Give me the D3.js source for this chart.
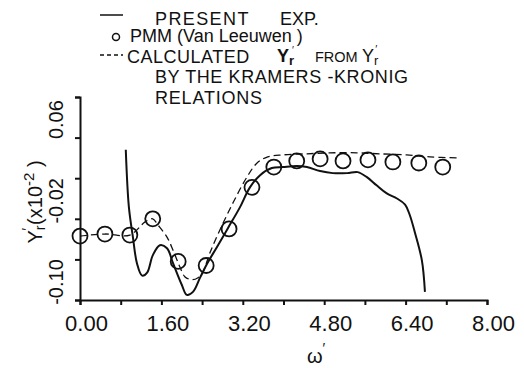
<!DOCTYPE html>
<html>
<head>
<meta charset="utf-8">
<script src="https://cdn.jsdelivr.net/npm/d3@7"></script>
<style>
  body { margin: 0; background: #fff; }
  svg { display: block; }
  text { fill: #111; font-family: "Liberation Sans", Arial, sans-serif; }
</style>
</head>
<body>
<svg id="chart" width="524" height="368"></svg>
<script>
// x = omega', y = Y'r (x10^-2)
const xTicks = [0, 0.8, 1.6, 2.4, 3.2, 4.0, 4.8, 5.6, 6.4, 7.2, 8.0]
const xLabels = ['0.00', '1.60', '3.20', '4.80', '6.40', '8.00']
const yTicks = [-0.10, -0.06, -0.02, 0.02, 0.06, 0.10]
const yLabels = [0.06, -0.02, -0.10]

// PMM (Van Leeuwen) circles
const pmmX = [0.0, 0.49, 0.98, 1.43, 1.93, 2.48, 2.93, 3.38, 3.81, 4.26, 4.72, 5.17, 5.66, 6.15, 6.66, 7.13]
const pmmY = [-0.037, -0.035, -0.036, -0.020, -0.062, -0.066, -0.030, 0.011, 0.031, 0.037, 0.039, 0.037, 0.038, 0.036, 0.035, 0.031]

// present experiment (solid)
const expX = [0.90, 0.96, 1.04, 1.12, 1.22, 1.32, 1.43, 1.57, 1.71, 1.83, 2.00, 2.10, 2.22, 2.36, 2.50, 2.69, 2.91, 3.14, 3.34, 3.54, 3.77, 3.99, 4.26, 4.46, 4.72, 4.97, 5.25, 5.46, 5.64, 5.83, 6.03, 6.23, 6.39, 6.48, 6.58, 6.72, 6.78]
const expY = [0.048, -0.008, -0.038, -0.064, -0.076, -0.073, -0.056, -0.046, -0.049, -0.064, -0.085, -0.095, -0.092, -0.078, -0.064, -0.048, -0.029, -0.009, 0.011, 0.023, 0.030, 0.031, 0.032, 0.031, 0.027, 0.025, 0.025, 0.026, 0.021, 0.013, 0.005, 0.000, -0.006, -0.016, -0.033, -0.061, -0.092]

// calculated by Kramers-Kronig (dashed)
const kkX = [0.0, 0.49, 0.98, 1.28, 1.43, 1.53, 1.71, 1.83, 1.96, 2.06, 2.20, 2.32, 2.42, 2.55, 2.75, 3.01, 3.28, 3.48, 3.69, 3.99, 4.46, 4.91, 5.44, 5.89, 6.42, 6.88, 7.41]
const kkY = [-0.037, -0.035, -0.036, -0.023, -0.020, -0.026, -0.038, -0.051, -0.067, -0.077, -0.080, -0.078, -0.072, -0.054, -0.031, -0.004, 0.021, 0.035, 0.041, 0.043, 0.044, 0.045, 0.045, 0.044, 0.043, 0.041, 0.040]

const INK = '#111'
const svg = d3.select('#chart')

const x = d3.scaleLinear().domain([0, 8]).range([80, 487])
const y = d3.scaleLinear().domain([-0.10, 0.10]).range([300, 97])

// x axis
const xAxis = svg.append('g')
  .attr('transform', `translate(0, ${y(-0.10)})`)
  .call(d3.axisBottom(x)
    .tickValues(xTicks)
    .tickSize(5)
    .tickSizeOuter(5)
    .tickPadding(10)
    .tickFormat(d => {
      const s = d.toFixed(2)
      return xLabels.includes(s) ? s : ''
    }))
xAxis.selectAll('path, line').attr('stroke', INK).attr('stroke-width', 2)
xAxis.selectAll('text')
  .attr('dx', 6)
  .style('font-size', '22px')
  .style('font-family', '"Liberation Sans", Arial, sans-serif')
  .style('fill', INK)

// y axis
const yAxis = svg.append('g')
  .attr('transform', `translate(${x(0)}, 0)`)
  .call(d3.axisLeft(y)
    .tickValues(yTicks)
    .tickSize(5)
    .tickSizeOuter(5)
    .tickFormat(''))
yAxis.selectAll('path, line').attr('stroke', INK).attr('stroke-width', 2)

// rotated y tick labels
svg.selectAll('.ylab')
  .data(yLabels)
  .enter()
  .append('text')
  .attr('class', 'ylab')
  .attr('transform', d => `translate(63, ${y(d) - 18}) rotate(-90)`)
  .attr('text-anchor', 'middle')
  .style('font-size', '20px')
  .text(d => d.toFixed(2))

// y axis title
const yTitle = svg.append('text')
  .attr('transform', 'translate(42, 202) rotate(-90)')
  .attr('text-anchor', 'middle')
  .style('font-size', '20px')
yTitle.append('tspan').text('Y')
yTitle.append('tspan').attr('dy', 3).style('font-size', '14px').text('r')
yTitle.append('tspan').attr('dy', -13).attr('dx', -5).style('font-size', '14px').text('′')
yTitle.append('tspan').attr('dy', 10).attr('dx', 3).text('(x10')
yTitle.append('tspan').attr('dy', -8).style('font-size', '15px').text('-2')
yTitle.append('tspan').attr('dy', 8).text(' )')

// x axis title
const xTitle = svg.append('text')
  .attr('x', 316)
  .attr('y', 363)
  .attr('text-anchor', 'middle')
  .style('font-size', '20px')
xTitle.append('tspan').text('ω')
xTitle.append('tspan').attr('dy', -10).style('font-size', '14px').text('′')

// lines
const line = d3.line()
  .x(d => x(d[0]))
  .y(d => y(d[1]))
  .curve(d3.curveCatmullRom.alpha(0.5))

svg.append('path')
  .datum(d3.zip(kkX, kkY))
  .attr('d', line)
  .attr('fill', 'none')
  .attr('stroke', INK)
  .attr('stroke-width', 1.3)
  .attr('stroke-dasharray', '7,4')

svg.append('path')
  .datum(d3.zip(expX, expY))
  .attr('d', line)
  .attr('fill', 'none')
  .attr('stroke', INK)
  .attr('stroke-width', 2)

// PMM circles
svg.selectAll('.pmm')
  .data(d3.zip(pmmX, pmmY))
  .enter()
  .append('circle')
  .attr('class', 'pmm')
  .attr('cx', d => x(d[0]))
  .attr('cy', d => y(d[1]))
  .attr('r', 7.5)
  .attr('fill', 'none')
  .attr('stroke', INK)
  .attr('stroke-width', 1.8)

// legend
const legend = svg.append('g').style('font-size', '18px')

legend.append('line')
  .attr('x1', 100).attr('x2', 123).attr('y1', 15).attr('y2', 15)
  .attr('stroke', INK).attr('stroke-width', 1.5)
legend.append('text').attr('x', 155).attr('y', 25).style('letter-spacing', '1.4px').text('PRESENT')
legend.append('text').attr('x', 280).attr('y', 25).text('EXP.')

legend.append('circle')
  .attr('cx', 116).attr('cy', 37).attr('r', 3.5)
  .attr('fill', 'none').attr('stroke', INK).attr('stroke-width', 1.5)
legend.append('text').attr('x', 130).attr('y', 42).text('PMM (Van Leeuwen )')

legend.append('line')
  .attr('x1', 100).attr('x2', 123).attr('y1', 55).attr('y2', 55)
  .attr('stroke', INK).attr('stroke-width', 1.3).attr('stroke-dasharray', '4,3')
legend.append('text').attr('x', 127).attr('y', 63).style('letter-spacing', '0.5px').text('CALCULATED')

const yr1 = legend.append('text').attr('x', 277).attr('y', 62).style('font-weight', 'bold')
yr1.append('tspan').style('font-size', '18px').text('Y')
yr1.append('tspan').attr('dy', 3).style('font-size', '13px').text('r')
yr1.append('tspan').attr('dy', -11).attr('dx', -2).style('font-size', '10px').style('font-weight', 'normal').text('′')

legend.append('text').attr('x', 315).attr('y', 62).style('font-size', '14.5px').text('FROM')

const yr2 = legend.append('text').attr('x', 362).attr('y', 62)
yr2.append('tspan').style('font-size', '18px').text('Y')
yr2.append('tspan').attr('dy', 3).style('font-size', '13px').text('r')
yr2.append('tspan').attr('dy', -12).attr('dx', -3).style('font-size', '11px').text('′')

legend.append('text').attr('x', 155).attr('y', 83).style('letter-spacing', '0.6px').text('BY THE KRAMERS -KRONIG')
legend.append('text').attr('x', 155).attr('y', 104).style('letter-spacing', '0.8px').text('RELATIONS')
</script>
</body>
</html>
